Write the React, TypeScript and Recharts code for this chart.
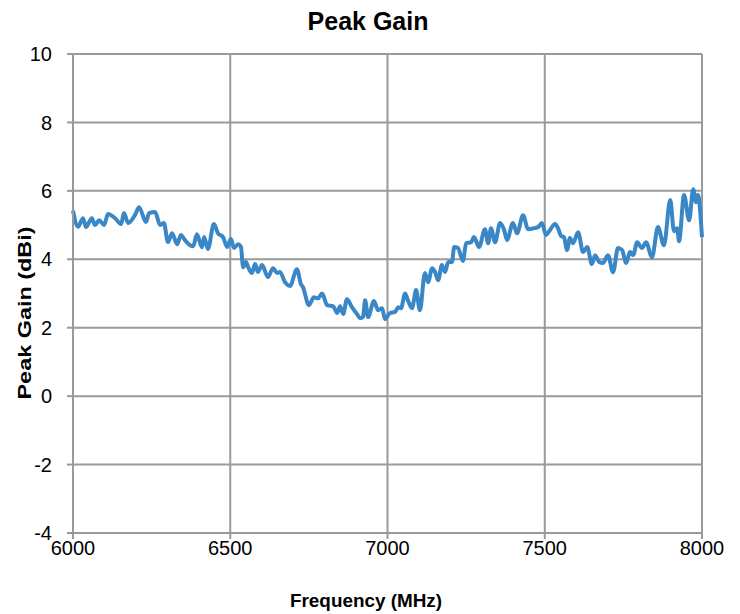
import { LineChart, Line, XAxis, YAxis, CartesianGrid, Label } from 'recharts';

// frequency (MHz)
const freqs = [
  6000, 6016, 6032, 6041, 6060, 6070, 6083, 6099, 6111, 6134, 6153, 6162, 6175, 6197, 6210,
  6232, 6242, 6261, 6277, 6289, 6302, 6315, 6331, 6343, 6356, 6372, 6382, 6394, 6410, 6417,
  6429, 6448, 6461, 6477, 6490, 6502, 6512, 6525, 6534, 6541, 6550, 6557, 6569, 6579, 6588,
  6601, 6620, 6636, 6649, 6658, 6674, 6690, 6712, 6725, 6731, 6750, 6766, 6779, 6792, 6808,
  6827, 6840, 6849, 6859, 6871, 6887, 6903, 6913, 6922, 6929, 6938, 6957, 6970, 6983, 6992,
  7008, 7024, 7034, 7043, 7056, 7065, 7078, 7091, 7103, 7119, 7129, 7142, 7151, 7161, 7173,
  7183, 7193, 7205, 7212, 7224, 7240, 7250, 7266, 7275, 7291, 7310, 7320, 7329, 7342, 7358,
  7371, 7380, 7399, 7412, 7431, 7447, 7466, 7479, 7491, 7504, 7514, 7533, 7542, 7552, 7561,
  7571, 7580, 7590, 7606, 7622, 7635, 7650, 7660, 7673, 7685, 7701, 7717, 7733, 7746, 7759,
  7771, 7781, 7794, 7809, 7822, 7841, 7860, 7879, 7899, 7911, 7921, 7927, 7943, 7959, 7972,
  7981, 7987, 8000,
];

// peak gain (dBi)
const gains = [
  5.42, 4.95, 5.2, 4.94, 5.2, 5.0, 5.14, 5.0, 5.32, 5.2, 5.03, 5.35, 5.06, 5.29, 5.52,
  5.09, 5.35, 5.38, 5.0, 5.06, 4.5, 4.76, 4.44, 4.71, 4.56, 4.41, 4.38, 4.73, 4.35, 4.65,
  4.3, 5.03, 4.76, 4.65, 4.36, 4.59, 4.33, 4.44, 4.36, 3.77, 3.92, 3.77, 3.6, 3.86, 3.63,
  3.83, 3.48, 3.74, 3.6, 3.63, 3.33, 3.22, 3.71, 3.27, 3.19, 2.66, 2.89, 2.86, 3.0, 2.66,
  2.63, 2.43, 2.63, 2.4, 2.83, 2.6, 2.4, 2.28, 2.31, 2.8, 2.31, 2.78, 2.51, 2.57, 2.25,
  2.43, 2.46, 2.6, 2.57, 3.0, 2.8, 2.57, 3.1, 2.51, 3.6, 3.33, 3.74, 3.63, 3.39, 3.83,
  3.63, 3.92, 3.92, 4.36, 4.33, 3.95, 4.47, 4.5, 4.65, 4.36, 4.88, 4.47, 4.91, 4.5, 5.06,
  4.85, 4.56, 5.06, 4.76, 5.29, 4.88, 4.91, 4.94, 5.06, 4.71, 4.82, 5.03, 4.91, 4.68, 4.65,
  4.27, 4.62, 4.47, 4.79, 4.21, 4.36, 3.86, 4.12, 3.92, 3.89, 4.12, 3.62, 4.33, 4.27, 3.89,
  4.21, 4.12, 4.5, 4.33, 4.5, 4.06, 4.94, 4.41, 5.73, 4.82, 4.91, 4.53, 5.88, 5.14, 6.05,
  5.67, 5.88, 4.65,
];

const xTicks = [6000, 6500, 7000, 7500, 8000];
const yTicks = [-4, -2, 0, 2, 4, 6, 8, 10];

const data = freqs.map((f, i) => ({ freq: f, gain: gains[i] }));

const font = 'Liberation Sans, Arial, sans-serif';
const tickFont = { fontFamily: font, fontSize: 20, fill: '#000' };
const gridColor = '#9a9a9a';

export default function App() {
  return (
    <div style={{ position: 'absolute', left: 0, top: 0, width: 740, height: 614, background: '#fff' }}>
      <LineChart
        width={740}
        height={614}
        data={data}
        margin={{ top: 54, right: 38, bottom: 0, left: 13 }}
      >
        <text x={368} y={30} textAnchor="middle" fontFamily={font} fontWeight="bold" fontSize={25} fill="#000">
          Peak Gain
        </text>
        <CartesianGrid stroke={gridColor} strokeWidth={2} />
        <XAxis
          dataKey="freq"
          type="number"
          domain={[6000, 8000]}
          ticks={xTicks}
          stroke={gridColor}
          strokeWidth={2}
          tickSize={6}
          tickMargin={2}
          tick={tickFont}
          height={81}
        >
          <Label
            content={() => (
              <text
                x={366}
                y={607}
                textAnchor="middle"
                fontFamily={font}
                fontWeight="bold"
                fontSize={19}
                textLength={152}
                lengthAdjust="spacingAndGlyphs"
                fill="#000"
              >
                Frequency (MHz)
              </text>
            )}
          />
        </XAxis>
        <YAxis
          type="number"
          domain={[-4, 10]}
          ticks={yTicks}
          stroke={gridColor}
          strokeWidth={2}
          tickSize={6}
          tickMargin={15}
          tick={tickFont}
          width={60}
        >
          <Label
            content={() => (
              <text
                x={0}
                y={0}
                transform="translate(31, 313) rotate(-90)"
                textAnchor="middle"
                fontFamily={font}
                fontWeight="bold"
                fontSize={19}
                textLength={173}
                lengthAdjust="spacingAndGlyphs"
                fill="#000"
              >
                Peak Gain (dBi)
              </text>
            )}
          />
        </YAxis>
        <Line
          type="monotone"
          dataKey="gain"
          stroke="#3a87c8"
          strokeWidth={4}
          dot={false}
          isAnimationActive={false}
        />
      </LineChart>
    </div>
  );
}
